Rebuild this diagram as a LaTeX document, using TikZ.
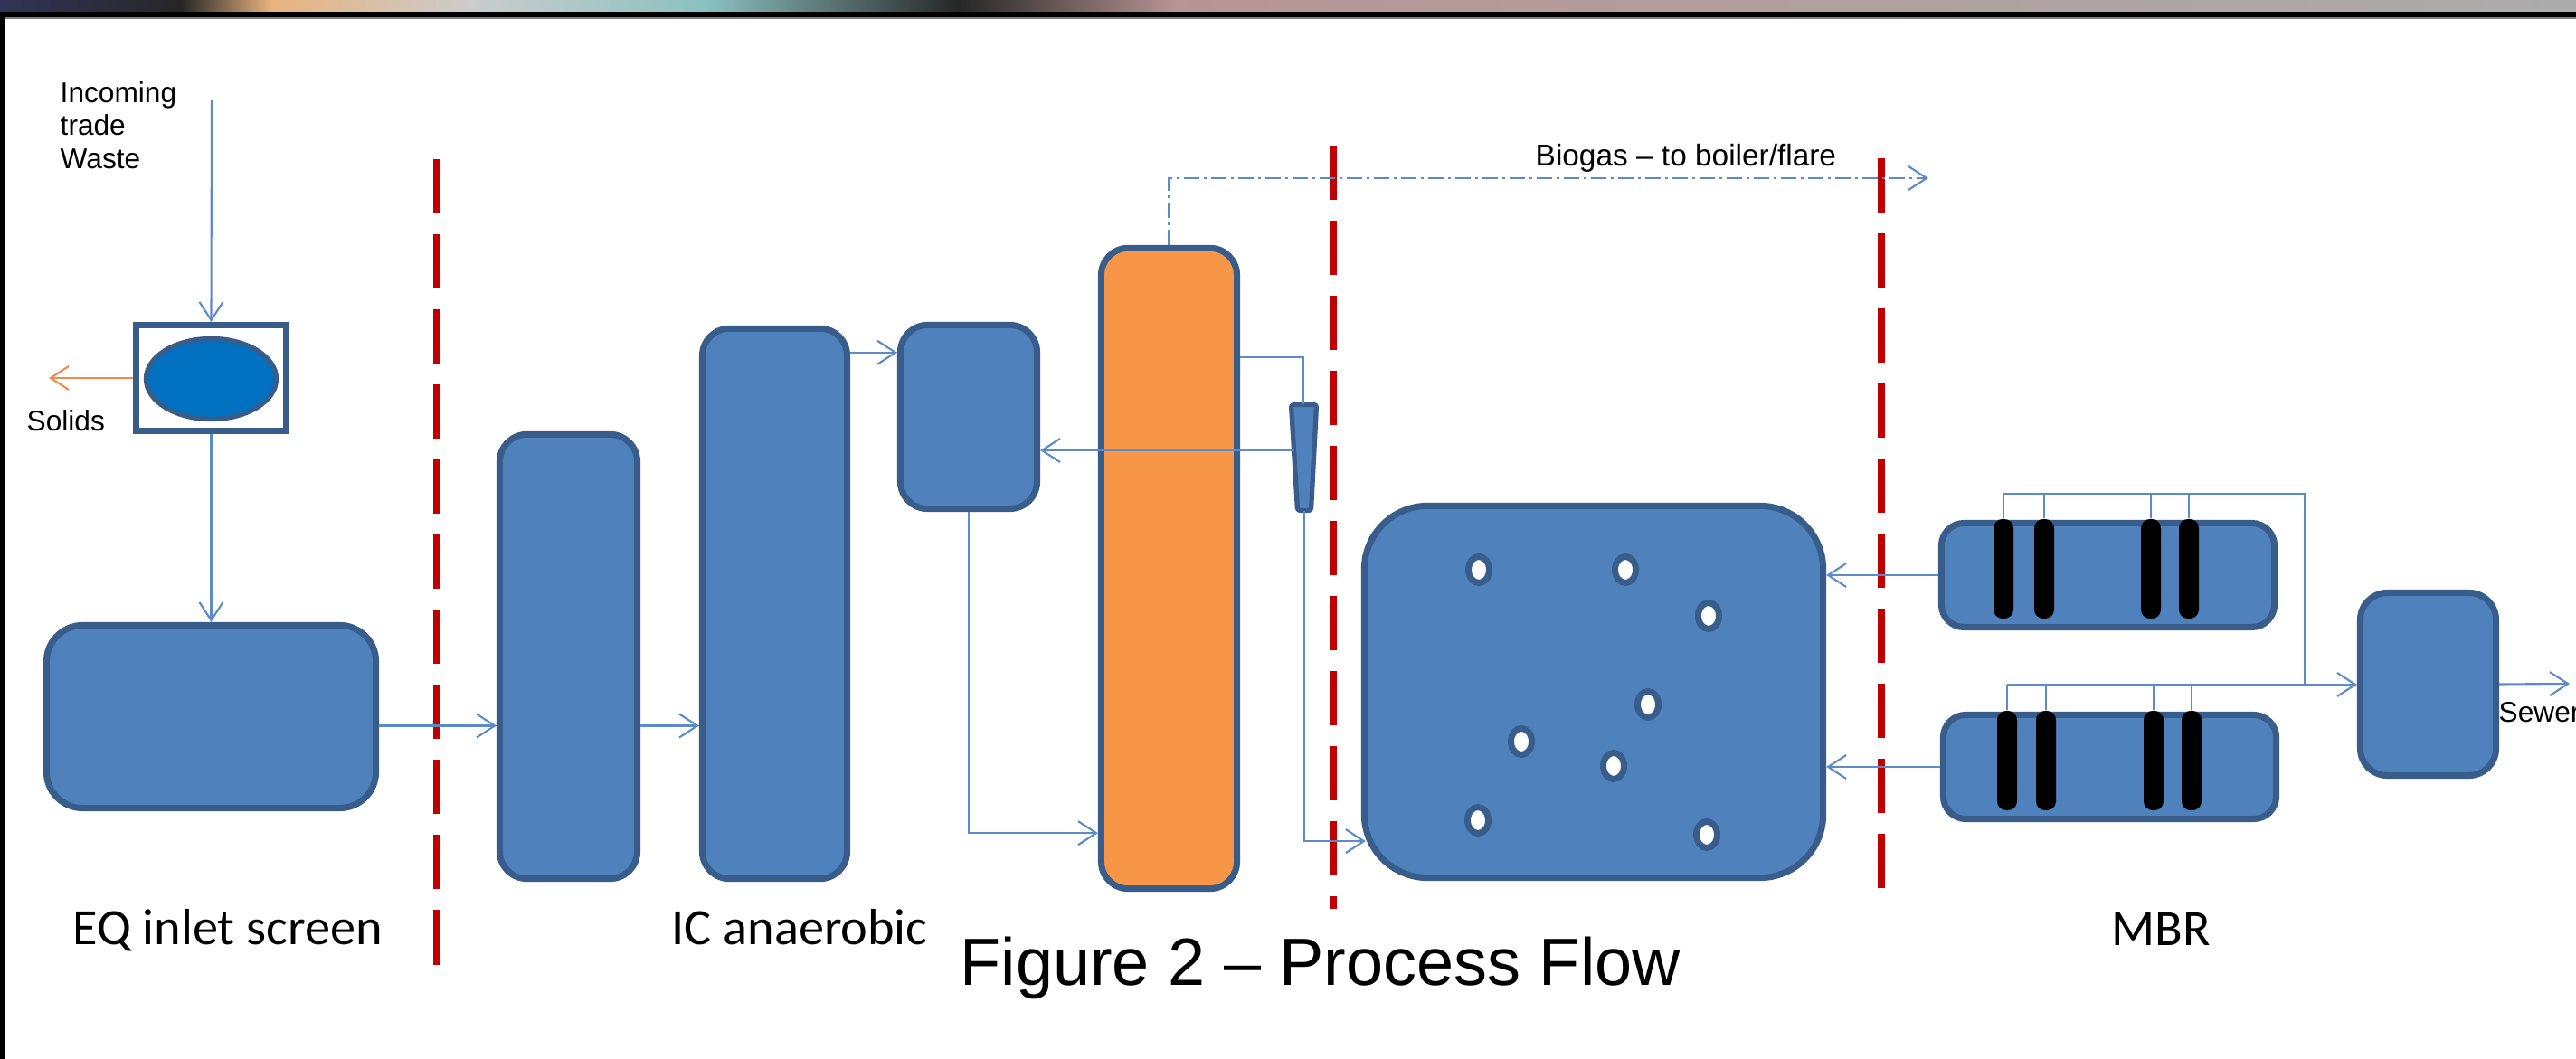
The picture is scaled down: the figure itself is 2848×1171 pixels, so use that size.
\documentclass[tikz,border=0pt]{standalone}
\usepackage{fontspec}
\setmainfont{Liberation Sans}
\newfontfamily\calib{Carlito}
\usepackage{tikz}
\usetikzlibrary{arrows.meta,shapes.geometric}

\definecolor{tankblue}{HTML}{4F81BD}
\definecolor{tankedge}{HTML}{385D8A}
\definecolor{flowblue}{HTML}{5B8BC9}
\definecolor{drumblue}{HTML}{0070C0}
\definecolor{digorange}{HTML}{F79646}
\definecolor{solidorange}{HTML}{F08A4B}
\definecolor{divred}{HTML}{C00000}

\tikzstyle{tank} = [draw=tankedge, fill=tankblue, line width=2pt, rounded corners=3mm, inner sep=0pt]
\tikzstyle{screenbox} = [draw=tankedge, fill=white, line width=2pt, inner sep=0pt]
\tikzstyle{drum} = [ellipse, draw=tankedge, fill=drumblue, line width=1.5pt, inner sep=0pt]
\tikzstyle{cyclone} = [draw=tankedge, fill=tankblue, line width=1.5pt, rounded corners=0.8pt, line join=round]
\tikzstyle{bubble} = [ellipse, draw=tankedge, fill=white, line width=0.07cm, minimum width=0.23cm, minimum height=0.29cm, inner sep=0pt]
\tikzstyle{membrane} = [fill=black, rounded corners=1mm, minimum width=0.22cm, minimum height=1.1cm, inner sep=0pt]
\tikzstyle{pipe} = [draw=flowblue, line width=0.6pt]
\tikzstyle{flow} = [pipe, -{Straight Barb[length=2mm,width=2.6mm]}]
\tikzstyle{gas} = [flow, dash pattern=on 1.7mm off 0.5mm on 0.3mm off 0.5mm]
\tikzstyle{divider} = [draw=divred, line width=0.085cm, dash pattern=on 6mm off 2.3mm]
\tikzstyle{txt} = [font=\fontsize{9}{10.3}\selectfont, inner sep=0pt]
\tikzstyle{stage} = [font=\calib\fontsize{16}{19}\selectfont, inner sep=0pt, anchor=base west]

\begin{document}
\begin{tikzpicture}[x=0.01cm, y=-0.01cm]
\useasboundingbox (0,0) rectangle (2848,1171);
\clip (0,0) rectangle (2848,1171);
\fill[white] (0,0) rectangle (2848,1171);
% window frame of the grab
\shade[left color=black!75!blue!60!gray, right color=black!70!gray] (0,0) rectangle (200,13);
\shade[left color=black!70!gray, right color=orange!40!brown!60!white] (200,0) rectangle (300,13);
\shade[left color=orange!40!brown!60!white, right color=gray!40] (300,0) rectangle (520,13);
\shade[left color=gray!40, right color=cyan!30!gray!70] (520,0) rectangle (780,13);
\shade[left color=cyan!30!gray!70, right color=black!70!gray] (780,0) rectangle (1060,13);
\shade[left color=black!70!gray, right color=red!20!gray!70] (1060,0) rectangle (1300,13);
\shade[left color=red!20!gray!70, right color=gray!65] (1300,0) rectangle (2848,13);
\fill[black] (0,13) rectangle (2848,19);
\fill[gray] (0,19) rectangle (2848,21);
\fill[black] (0,13) rectangle (6,1171);

% stage dividers
\draw[divider] (483,176) -- (483,1075);
\draw[divider] (1474,161) -- (1474,1005);
\draw[divider] (2080,175) -- (2080,991);

% EQ inlet screen
\node[txt, anchor=north west, align=left] (incoming) at (66,90) {Incoming\\trade\\Waste};
\coordinate (inlet) at (234,111);
\node[screenbox, minimum width=1.66cm, minimum height=1.17cm] (scr) at (233.5,418) {};
\node[drum, minimum width=1.44cm, minimum height=0.89cm] (drm) at (233.5,419) {};
\coordinate (solidsout) at (54,418);
\node[txt, anchor=north west] (solids) at (29,453) {Solids};
\node[tank, rounded corners=4mm, minimum width=3.64cm, minimum height=2.02cm] (eq) at (233.5,792.5) {};

% IC anaerobic
\node[tank, minimum width=1.52cm, minimum height=4.91cm] (ic1) at (628.5,726) {};
\node[tank, minimum width=1.60cm, minimum height=6.08cm] (ic2) at (856.5,667.5) {};
\node[tank, minimum width=1.51cm, minimum height=2.03cm] (cond) at (1071,461) {};
\node[tank, fill=digorange, minimum width=1.50cm, minimum height=7.08cm] (dig) at (1292.5,628.5) {};
% tapered separator
\draw[cyclone] (1427.5,447.5) -- (1455.5,447.5) -- (1449.5,564.5) -- (1434.5,564.5) -- cycle;
\coordinate (cyctop) at (1441,447);
\coordinate (cycside) at (1430.5,498);
\coordinate (cycbot) at (1442,565);
\coordinate (gasout) at (2132,197);
\node[txt, font=\fontsize{9.5}{11}\selectfont, anchor=base west] (biogas) at (1697,184) {Biogas – to boiler/flare};

% aeration tank
\node[tank, rounded corners=7mm, minimum width=5.07cm, minimum height=4.11cm] (aer) at (1762,765) {};
\foreach \bx/\by [count=\i] in {1635/630,1797/630,1889/681,1822/779,1682/820,1784/847,1634/907,1887/923}
  \node[bubble] (dot\i) at (\bx,\by) {};

% MBR
\node[tank, rounded corners=2.5mm, minimum width=3.68cm, minimum height=1.15cm] (mbr1) at (2330.5,636) {};
\node[tank, rounded corners=2.5mm, minimum width=3.68cm, minimum height=1.15cm] (mbr2) at (2332.5,848) {};
\foreach \mx [count=\i] in {2215,2260,2378,2420}
  \node[membrane] (ma\i) at (\mx,629) {};
\foreach \mx [count=\i] in {2219,2262,2381,2423}
  \node[membrane] (mb\i) at (\mx,841) {};
\coordinate (hdra) at (2548,546);
\coordinate (hdrb) at (2548,757);
\node[tank, minimum width=1.50cm, minimum height=2.02cm] (fin) at (2684.5,756.5) {};
\coordinate (sewer) at (2841,756);
\node[txt, anchor=north west] (sewertxt) at (2762,776) {Sewer};

% flows
\draw[flow] (inlet) -- (scr.north);
\draw[flow, draw=solidorange] (scr.west) -- (solidsout);
\draw[flow] (scr.south) -- (eq.north);
\draw[flow] ([yshift=-1mm]eq.east) -- ([yshift=-1mm]eq.east -| ic1.west);
\draw[flow] ([yshift=-1mm]eq.east -| ic1.east) -- ([yshift=-1mm]eq.east -| ic2.west);
\draw[flow] ([yshift=-3mm]ic2.north east) -- ([yshift=-3mm]ic2.north east -| cond.west);
\draw[flow] (cond.south) |- ([yshift=6.5mm]dig.south west);
\draw[pipe] ([yshift=-12.4mm]dig.north east) -| (cyctop);
\draw[flow] (cycside) -- (cycside -| cond.east);
\draw[flow] (cycbot) |- ([xshift=0.5mm,yshift=4.4mm]aer.south west);
\draw[gas] (dig.north) |- (gasout);
\draw[flow] (mbr1.west) -- (mbr1.west -| aer.east);
\draw[flow] (mbr2.west) -- (mbr2.west -| aer.east);
\draw[pipe] (ma1.north |- hdra) -- (hdra) -- (hdrb);
\draw[pipe] (mb1.north |- hdrb) -- (hdrb);
\foreach \i in {1,...,4} {
  \draw[pipe] (ma\i.north) -- (ma\i.north |- hdra);
  \draw[pipe] (mb\i.north) -- (mb\i.north |- hdrb);
}
\draw[flow] (hdrb) -- (hdrb -| fin.west);
\draw[flow] (fin.east) -- (sewer);

% stage names
\node[stage] (eqname) at (80,1045) {EQ inlet screen};
\node[stage] (icname) at (742,1045) {IC anaerobic};
\node[stage] (mbrname) at (2334,1046) {MBR};
\node[anchor=base west, inner sep=0pt, font=\fontsize{21}{25}\selectfont] (caption) at (1061,1090) {Figure 2 – Process Flow};
\end{tikzpicture}
\end{document}
